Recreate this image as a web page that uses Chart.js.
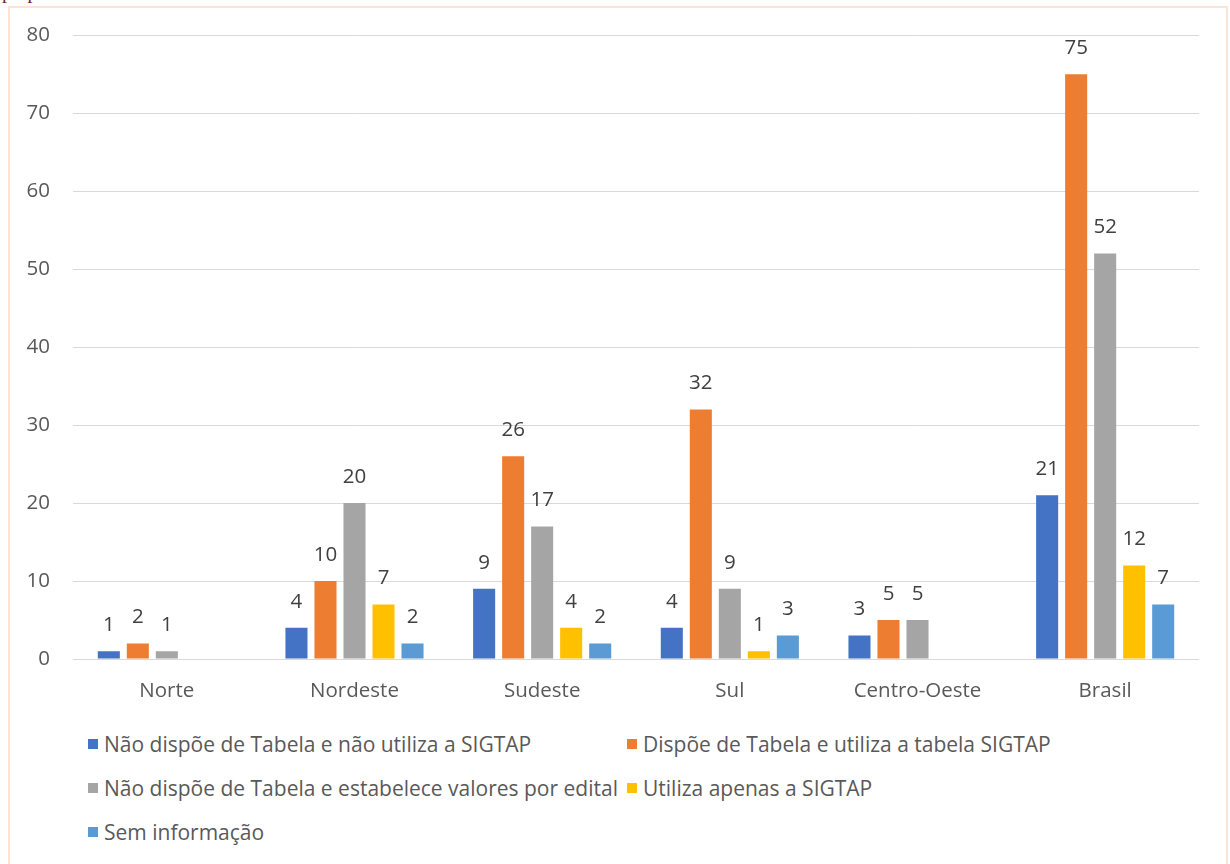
<!DOCTYPE html>
<html>
<head>
<meta charset="utf-8">
<script src="https://cdn.jsdelivr.net/npm/chart.js@4"></script>
<style>
  body { margin: 0; background: #fff; width: 1230px; height: 864px; overflow: hidden; position: relative; }
  #cut { position: absolute; left: 2px; top: -20px; font: 20px "Liberation Serif", serif; color: #7a1f3d; white-space: nowrap; }
  #frame { position: absolute; left: 8px; top: 6px; width: 1220px; height: 880px; border: 2px solid #fbe4d5; box-sizing: border-box; }
  #chart { position: absolute; left: 0; top: 0; }
  #legend { position: absolute; left: 88px; top: 722px; display: grid; grid-template-columns: 539px auto; grid-auto-rows: 44px; font: 21px "Open Sans", sans-serif; color: #595959; }
  #legend div { display: flex; align-items: center; white-space: nowrap; }
  #legend span.box { display: inline-block; width: 10px; height: 10px; margin-right: 6px; }
</style>
</head>
<body>
<div id="cut">preparado valores da Tabela SUS.</div>
<div id="frame"></div>
<canvas id="chart" width="1230" height="720"></canvas>
<div id="legend"></div>
<script>
const regioes = ['Norte', 'Nordeste', 'Sudeste', 'Sul', 'Centro-Oeste', 'Brasil'];
const yTicks = [0, 10, 20, 30, 40, 50, 60, 70, 80];

const semTabelaSemSigtap = [1, 4, 9, 4, 3, 21];
const tabelaSigtap = [2, 10, 26, 32, 5, 75];
const semTabelaEdital = [1, 20, 17, 9, 5, 52];
const apenasSigtap = [null, 7, 4, 1, null, 12];
const semInformacao = [null, 2, 2, 3, null, 7];

const seriesNames = [
    'Não dispõe de Tabela e não utiliza a SIGTAP',
    'Dispõe de Tabela e utiliza a tabela SIGTAP',
    'Não dispõe de Tabela e estabelece valores por edital',
    'Utiliza apenas a SIGTAP',
    'Sem informação'
];
const seriesColors = ['#4472c4', '#ed7d31', '#a5a5a5', '#ffc000', '#5b9bd5'];
const seriesData = [semTabelaSemSigtap, tabelaSigtap, semTabelaEdital, apenasSigtap, semInformacao];

// rotulos de valor sobre as barras
const valueLabels = {
    id: 'valueLabels',
    afterDatasetsDraw(chart) {
        const ctx = chart.ctx;
        ctx.save();
        ctx.font = '20.5px "Open Sans"';
        ctx.fillStyle = '#404040';
        ctx.textAlign = 'center';
        ctx.textBaseline = 'middle';
        chart.data.datasets.forEach((ds, i) => {
            chart.getDatasetMeta(i).data.forEach((bar, j) => {
                const v = ds.data[j];
                if (v === null) return;
                ctx.fillText(String(v), bar.x, bar.y - 26);
            });
        });
        ctx.restore();
    }
};

const datasets = seriesNames.map((name, i) => ({
    label: name,
    data: seriesData[i],
    backgroundColor: seriesColors[i],
    categoryPercentage: 0.773,
    barPercentage: 0.76
}));

new Chart(document.getElementById('chart'), {
    type: 'bar',
    data: { labels: regioes, datasets: datasets },
    options: {
        responsive: false,
        animation: false,
        layout: { padding: { top: 35, right: 31, left: 0, bottom: 0 } },
        plugins: { legend: { display: false }, tooltip: { enabled: false } },
        scales: {
            x: {
                grid: { display: false },
                border: { display: false },
                ticks: { color: '#595959', font: { family: 'Open Sans', size: 20.5 }, padding: 12 },
                afterFit: s => { s.height = 61; }
            },
            y: {
                min: yTicks[0],
                max: yTicks[yTicks.length - 1],
                afterBuildTicks: s => { s.ticks = yTicks.map(v => ({ value: v })); },
                grid: { color: '#d9d9d9', drawTicks: false },
                border: { display: false },
                ticks: { color: '#595959', font: { family: 'Open Sans', size: 20.5 }, padding: 23 },
                afterFit: s => { s.width = 73; }
            }
        }
    },
    plugins: [valueLabels]
});

const legend = document.getElementById('legend');
seriesNames.forEach((name, i) => {
    const item = document.createElement('div');
    item.innerHTML = `<span class="box" style="background:${seriesColors[i]}"></span>${name}`;
    legend.appendChild(item);
});
</script>
</body>
</html>
